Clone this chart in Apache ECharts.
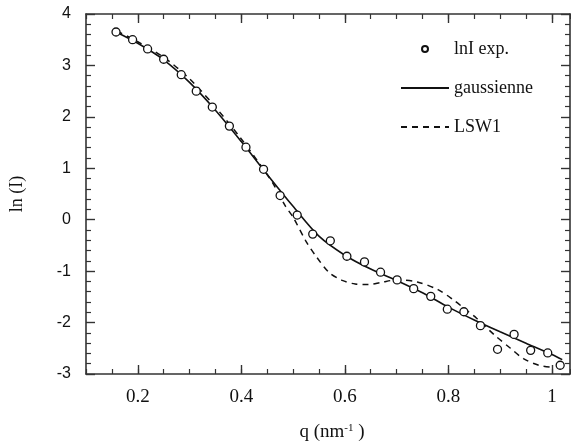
<!DOCTYPE html>
<html>
<head>
<meta charset="utf-8">
<script src="https://cdn.jsdelivr.net/npm/echarts@6/dist/echarts.min.js"></script>
<style>
  html, body { margin: 0; padding: 0; background: #fff; }
  #chart { width: 571px; height: 442px; }
</style>
</head>
<body>
<div id="chart"></div>
<script>
// Experimental points (q in nm^-1, ln I)
const qExp = [0.158, 0.190, 0.219, 0.250, 0.284, 0.313, 0.344, 0.377, 0.409, 0.443, 0.475, 0.508, 0.538, 0.572, 0.604, 0.638, 0.669, 0.701, 0.733, 0.766, 0.798, 0.830, 0.862, 0.895, 0.927, 0.959, 0.992, 1.016];
const lnIExp = [3.65, 3.50, 3.32, 3.12, 2.82, 2.50, 2.19, 1.82, 1.41, 0.98, 0.47, 0.09, -0.28, -0.41, -0.71, -0.82, -1.02, -1.17, -1.34, -1.49, -1.74, -1.79, -2.06, -2.52, -2.23, -2.54, -2.59, -2.83];

// Gaussian fit
const qGauss = [0.16, 0.20, 0.25, 0.30, 0.35, 0.40, 0.45, 0.50, 0.55, 0.60, 0.65, 0.70, 0.75, 0.80, 0.85, 0.90, 0.95, 1.00, 1.02];
const lnIGauss = [3.64, 3.43, 3.11, 2.67, 2.13, 1.52, 0.88, 0.26, -0.32, -0.69, -0.96, -1.18, -1.42, -1.70, -1.95, -2.18, -2.40, -2.62, -2.72];

// LSW1 model
const qLSW = [0.16, 0.20, 0.25, 0.30, 0.35, 0.40, 0.45, 0.465, 0.485, 0.50, 0.525, 0.545, 0.57, 0.595, 0.62, 0.645, 0.67, 0.70, 0.74, 0.78, 0.81, 0.83, 0.855, 0.89, 0.92, 0.945, 0.975, 1.00];
const lnILSW = [3.67, 3.46, 3.16, 2.74, 2.19, 1.57, 0.88, 0.64, 0.27, 0.05, -0.42, -0.72, -1.03, -1.18, -1.25, -1.26, -1.22, -1.17, -1.21, -1.36, -1.56, -1.72, -1.92, -2.25, -2.50, -2.70, -2.83, -2.87];

// Axis ticks
const xMajorTicks = [0.2, 0.4, 0.6, 0.8, 1.0];

const zip = (a, b) => a.map((v, i) => [v, b[i]]);

const serif = '"Liberation Serif", "DejaVu Serif", serif';
const sans = '"Liberation Sans", Arial, sans-serif';
const axisColor = '#333';
const ink = '#111';

const X_MIN = 0.1, X_MAX = 1.035;

function xAxisDef(pos, major, withLabel) {
  return {
    type: 'value',
    position: pos,
    min: X_MIN,
    max: X_MAX,
    interval: major ? undefined : 0.05,
    splitLine: { show: false },
    axisLine: { show: major, onZero: false, lineStyle: { color: axisColor, width: 1.6 } },
    axisTick: major
      ? { show: true, inside: true, length: 9, customValues: xMajorTicks, lineStyle: { color: axisColor, width: 1.4 } }
      : { show: true, inside: true, length: 5, lineStyle: { color: axisColor, width: 1.2 } },
    axisLabel: (major && withLabel)
      ? { show: true, customValues: xMajorTicks, margin: 14, color: ink, fontFamily: serif, fontSize: 19,
          formatter: v => (Math.abs(v - 1) < 1e-9 ? '1' : v.toFixed(1)) }
      : { show: false }
  };
}

function yAxisDef(pos, withLabel) {
  return {
    type: 'value',
    position: pos,
    min: -3,
    max: 4,
    interval: 1,
    splitLine: { show: false },
    axisLine: { show: true, onZero: false, lineStyle: { color: axisColor, width: 1.6 } },
    axisTick: { show: true, inside: true, length: 9, lineStyle: { color: axisColor, width: 1.4 } },
    minorTick: { show: true, splitNumber: 5, length: 5, lineStyle: { color: axisColor, width: 1.2 } },
    minorSplitLine: { show: false },
    axisLabel: withLabel
      ? { show: true, margin: 15, color: ink, fontFamily: sans, fontSize: 16,
          formatter: v => String(v) }
      : { show: false },
    name: withLabel ? 'ln (I)' : '',
    nameLocation: 'middle',
    nameRotate: 90,
    nameGap: 60,
    nameTextStyle: { fontFamily: serif, fontSize: 18, color: ink }
  };
}

const chart = echarts.init(document.getElementById('chart'), null, { renderer: 'canvas' });

const hiddenDot = { color: 'rgba(0,0,0,0)', borderColor: 'rgba(0,0,0,0)', borderWidth: 0, opacity: 0 };

chart.setOption({
  backgroundColor: '#fff',
  animation: false,
  grid: { left: 82, right: 1, top: 14, bottom: 68, containLabel: false },
  xAxis: [
    xAxisDef('bottom', true, true),
    xAxisDef('bottom', false, false),
    xAxisDef('top', true, false),
    xAxisDef('top', false, false)
  ],
  yAxis: [
    yAxisDef('left', true),
    yAxisDef('right', false)
  ],
  legend: {
    orient: 'vertical',
    left: 400,
    top: 40,
    padding: 0,
    itemWidth: 48,
    itemHeight: 6,
    itemGap: 21,
    textStyle: { fontFamily: serif, fontSize: 18, color: ink, padding: [0, 0, 0, 0] },
    data: [
      { name: 'lnI exp.' },
      { name: 'gaussienne', itemStyle: hiddenDot },
      { name: 'LSW1', itemStyle: hiddenDot }
    ]
  },
  graphic: [
    {
      type: 'text',
      x: 332,
      y: 432,
      style: {
        text: 'q (nm{s|-1} )',
        fill: ink,
        font: '19px ' + serif,
        align: 'center',
        verticalAlign: 'middle',
        rich: { s: { fontSize: 11, fontFamily: serif, verticalAlign: 'top', fill: ink } }
      }
    }
  ],
  series: [
    {
      name: 'gaussienne',
      type: 'line',
      xAxisIndex: 0,
      yAxisIndex: 0,
      data: zip(qGauss, lnIGauss),
      symbol: 'none',
      showSymbol: false,
      smooth: 0.3,
      lineStyle: { color: ink, width: 1.6 },
      itemStyle: { color: ink },
      z: 3
    },
    {
      name: 'LSW1',
      type: 'line',
      xAxisIndex: 0,
      yAxisIndex: 0,
      data: zip(qLSW, lnILSW),
      symbol: 'none',
      showSymbol: false,
      smooth: 0.3,
      lineStyle: { color: ink, width: 1.5, type: [6, 5] },
      itemStyle: { color: ink },
      z: 2
    },
    {
      name: 'lnI exp.',
      type: 'scatter',
      xAxisIndex: 0,
      yAxisIndex: 0,
      data: zip(qExp, lnIExp),
      symbol: 'circle',
      symbolSize: 8,
      itemStyle: { color: '#fff', borderColor: ink, borderWidth: 1.3, opacity: 1 },
      z: 4
    }
  ]
});
</script>
</body>
</html>
